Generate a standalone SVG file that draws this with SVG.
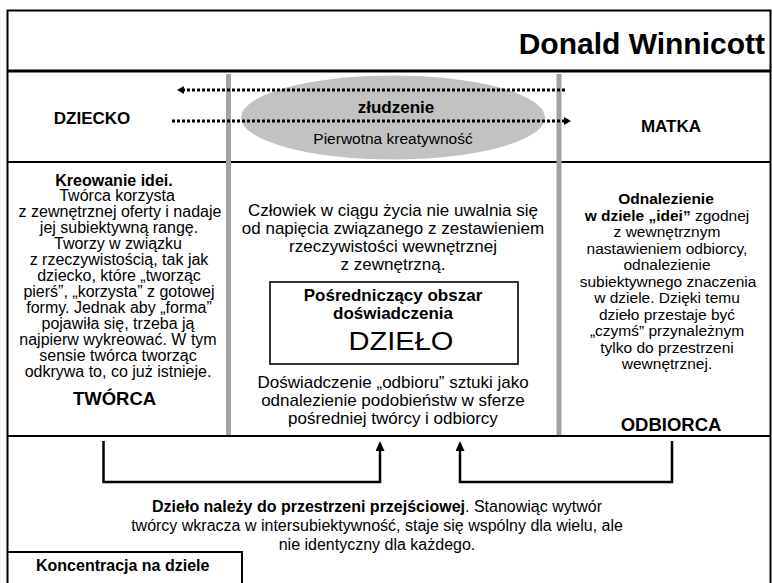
<svg xmlns="http://www.w3.org/2000/svg" width="772" height="583" viewBox="0 0 772 583">
  <style>
    text { font-family: "Liberation Sans", Arial, sans-serif; fill: #000; }
    .title { font-size: 30px; font-weight: bold; }
    .lbl { font-size: 17px; font-weight: bold; }
    .colL { font-size: 16px; text-anchor: middle; }
    .colC { font-size: 17px; text-anchor: middle; }
    .colR { font-size: 15.5px; text-anchor: middle; }
    .b { font-weight: bold; }
    .big { font-size: 26px; text-anchor: middle; }
    .role { font-size: 18.5px; font-weight: bold; text-anchor: middle; }
    .foot { font-size: 16px; text-anchor: middle; }
    .frame { fill: none; stroke: #000; }
    .divider { stroke: #a3a3a3; stroke-width: 5; }
    .dots { fill: none; stroke: #000; stroke-width: 3; stroke-dasharray: 3 2; }
    .bracket { fill: none; stroke: #000; stroke-width: 2.5; }
  </style>
  <defs>
    <marker id="headSolid" markerUnits="userSpaceOnUse" markerWidth="11" markerHeight="9" refX="2" refY="4.5" orient="auto">
      <path d="M0,0 L10,4.5 L0,9 z" fill="#000"/>
    </marker>
    <marker id="headDot" markerUnits="userSpaceOnUse" markerWidth="8" markerHeight="8" refX="1" refY="4" orient="auto">
      <path d="M0,0 L7,4 L0,8 z" fill="#000"/>
    </marker>
  </defs>

  <!-- outer frame and section rules -->
  <g id="frame">
    <path class="frame" stroke-width="2" d="M7.5,583 V10.5 H770.5 V583"/>
    <line class="frame" stroke-width="3" x1="7.5" y1="71" x2="770.5" y2="71"/>
    <line class="frame" stroke-width="2" x1="7.5" y1="162" x2="770.5" y2="162"/>
    <line class="frame" stroke-width="2" x1="7.5" y1="436" x2="770.5" y2="436"/>
    <line class="divider" x1="228.5" y1="74" x2="228.5" y2="435"/>
    <line class="divider" x1="559" y1="74" x2="559" y2="435"/>
  </g>

  <g id="title">
    <text class="title" x="765" y="53.5" text-anchor="end">Donald Winnicott</text>
  </g>

  <g id="illusion">
    <ellipse cx="393" cy="117.5" rx="152" ry="42" fill="#c2c2c2"/>
    <text class="lbl" x="396" y="113" text-anchor="middle">złudzenie</text>
    <text x="393" y="144" font-size="15.5" text-anchor="middle">Pierwotna kreatywność</text>
  </g>

  <g id="child">
    <text class="lbl" x="92" y="124" text-anchor="middle">DZIECKO</text>
  </g>

  <g id="mother">
    <text class="lbl" x="671" y="131.5" text-anchor="middle">MATKA</text>
  </g>

  <g id="creator">
    <text class="colL b" x="114" y="185.5">Kreowanie idei.</text>
    <text class="colL" x="117" y="201">Twórca korzysta</text>
    <text class="colL" x="120" y="217">z zewnętrznej oferty i nadaje</text>
    <text class="colL" x="119" y="233">jej subiektywną rangę.</text>
    <text class="colL" x="118" y="249">Tworzy w związku</text>
    <text class="colL" x="119" y="265">z rzeczywistością, tak jak</text>
    <text class="colL" x="119" y="281">dziecko, które „tworząc</text>
    <text class="colL" x="119" y="297">pierś”, „korzysta” z gotowej</text>
    <text class="colL" x="119" y="313">formy. Jednak aby „forma”</text>
    <text class="colL" x="118" y="329">pojawiła się, trzeba ją</text>
    <text class="colL" x="118" y="345">najpierw wykreować. W tym</text>
    <text class="colL" x="118" y="361">sensie twórca tworząc</text>
    <text class="colL" x="118" y="377">odkrywa to, co już istnieje.</text>
    <text class="role" x="114.5" y="405">TWÓRCA</text>
  </g>

  <g id="work">
    <text class="colC" x="393" y="216">Człowiek w ciągu życia nie uwalnia się</text>
    <text class="colC" x="393" y="234">od napięcia związanego z zestawieniem</text>
    <text class="colC" x="393" y="252">rzeczywistości wewnętrznej</text>
    <text class="colC" x="393" y="269.5">z zewnętrzną.</text>
    <rect x="270" y="282" width="248" height="82" fill="#fff" stroke="#333" stroke-width="2"/>
    <text class="colC b" x="393" y="301">Pośredniczący obszar</text>
    <text class="colC b" x="393" y="319">doświadczenia</text>
    <text class="big" x="401" y="350" textLength="105" lengthAdjust="spacingAndGlyphs">DZIEŁO</text>
    <text class="colC" x="393" y="388">Doświadczenie „odbioru” sztuki jako</text>
    <text class="colC" x="393" y="406">odnalezienie podobieństw w sferze</text>
    <text class="colC" x="393" y="424">pośredniej twórcy i odbiorcy</text>
  </g>

  <g id="recipient">
    <text class="colR b" x="666" y="204">Odnalezienie</text>
    <text class="colR" x="667" y="220.5"><tspan class="b">w dziele „idei”</tspan> zgodnej</text>
    <text class="colR" x="667" y="237">z wewnętrznym</text>
    <text class="colR" x="667" y="253.5">nastawieniem odbiorcy,</text>
    <text class="colR" x="667" y="270">odnalezienie</text>
    <text class="colR" x="668" y="286.5">subiektywnego znaczenia</text>
    <text class="colR" x="667" y="303">w dziele. Dzięki temu</text>
    <text class="colR" x="667" y="319.5">dzieło przestaje być</text>
    <text class="colR" x="667" y="336">„czymś” przynależnym</text>
    <text class="colR" x="667" y="352.5">tylko do przestrzeni</text>
    <text class="colR" x="667" y="369">wewnętrznej.</text>
    <text class="role" x="671" y="430.5">ODBIORCA</text>
  </g>

  <g id="transitional">
    <text class="foot" x="377" y="512"><tspan class="b">Dzieło należy do przestrzeni przejściowej</tspan>. Stanowiąc wytwór</text>
    <text class="foot" x="377" y="531">twórcy wkracza w intersubiektywność, staje się wspólny dla wielu, ale</text>
    <text class="foot" x="377" y="550">nie identyczny dla każdego.</text>
  </g>

  <g id="focus">
    <path class="frame" stroke-width="2" d="M7.5,552 H242 V583"/>
    <text x="36" y="571" font-size="16" font-weight="bold">Koncentracja na dziele</text>
  </g>

  <!-- connectors -->
  <g id="connectors">
    <line class="dots" x1="565" y1="90" x2="183" y2="90" marker-end="url(#headDot)"/>
    <line class="dots" x1="172" y1="121" x2="565" y2="121" marker-end="url(#headDot)"/>
    <polyline class="bracket" points="103.5,441 103.5,482 380,482 380,449" marker-end="url(#headSolid)"/>
    <polyline class="bracket" points="672,441 672,482 460,482 460,449" marker-end="url(#headSolid)"/>
  </g>
</svg>
